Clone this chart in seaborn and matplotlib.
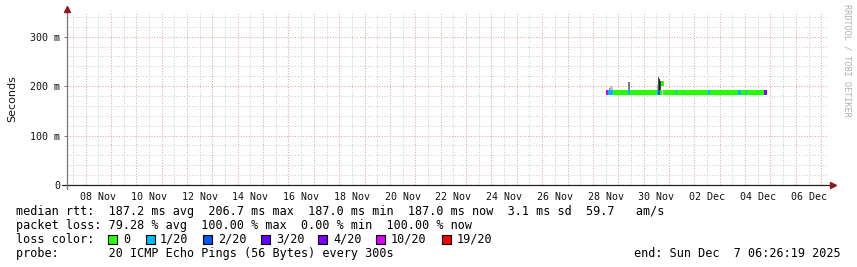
import matplotlib
matplotlib.use("Agg")
import matplotlib.pyplot as plt
import matplotlib.ticker as mticker
import matplotlib.dates as mdates
from matplotlib.patches import Rectangle
import seaborn as sns
import pandas as pd

# ---------------- data ----------------
start_time = "2025-11-07 06:26:19"
end_time = "2025-12-07 06:26:19"

loss_labels = ["0", "1/20", "2/20", "3/20", "4/20", "10/20", "19/20"]
loss_colors = ["#26ff00", "#00b8ff", "#0059ff", "#5e00ff", "#7e00ff", "#dd00ff", "#ff0000"]

# median rtt segments (start, end, median ms, loss level index)
seg_start = ["2025-11-28 12:00", "2025-11-28 14:00", "2025-11-28 19:00", "2025-11-29 09:00",
             "2025-11-29 11:00", "2025-11-30 12:30", "2025-11-30 14:00", "2025-11-30 15:30",
             "2025-11-30 16:30", "2025-11-30 18:00", "2025-12-01 06:30", "2025-12-01 07:30",
             "2025-12-02 12:50", "2025-12-02 14:50", "2025-12-03 17:20", "2025-12-03 20:00",
             "2025-12-04 00:50", "2025-12-04 01:50", "2025-12-04 17:50"]
seg_end = ["2025-11-28 14:00", "2025-11-28 19:00", "2025-11-29 09:00", "2025-11-29 11:00",
           "2025-11-30 12:30", "2025-11-30 14:00", "2025-11-30 15:30", "2025-11-30 16:30",
           "2025-11-30 18:00", "2025-12-01 06:30", "2025-12-01 07:30", "2025-12-02 12:50",
           "2025-12-02 14:50", "2025-12-03 17:20", "2025-12-03 20:00", "2025-12-04 00:50",
           "2025-12-04 01:50", "2025-12-04 17:50", "2025-12-04 19:50"]
seg_median = [187.2, 187.2, 187.2, 187.2, 187.2, 187.2, 187.2, 187.2, 206.7, 187.2,
              187.2, 187.2, 187.2, 187.2, 187.2, 187.2, 187.2, 187.2, 187.2]
seg_loss = [5, 1, 0, 1, 0, 1, 2, 0, 0, 0, 1, 0, 1, 0, 1, 0, 1, 0, 4]

# smoke (ping spread) blocks: start, end, top ms, shade
smoke_start = ["2025-11-28 15:00", "2025-11-28 16:30", "2025-11-29 09:00", "2025-11-30 12:30",
               "2025-11-30 13:30", "2025-11-30 14:30", "2025-11-30 15:30"]
smoke_end = ["2025-11-28 16:30", "2025-11-28 19:00", "2025-11-29 11:00", "2025-11-30 13:30",
             "2025-11-30 14:30", "2025-11-30 15:30", "2025-11-30 16:30"]
smoke_top = [196.0, 201.0, 208.0, 203.0, 219.0, 214.0, 211.0]
smoke_shade = ["#8f8f8f", "#c0c0c0", "#7a7a7a", "#b0b0b0", "#505050", "#202020", "#404040"]

x_tick_labels = ["08 Nov", "10 Nov", "12 Nov", "14 Nov", "16 Nov", "18 Nov", "20 Nov",
                 "22 Nov", "24 Nov", "26 Nov", "28 Nov", "30 Nov", "02 Dec", "04 Dec", "06 Dec"]
y_ticks = [0, 100, 200, 300]
y_tick_labels = ["0", "100 m", "200 m", "300 m"]

legend_lines = [
    "median rtt:  187.2 ms avg  206.7 ms max  187.0 ms min  187.0 ms now  3.1 ms sd  59.7   am/s",
    "packet loss: 79.28 % avg  100.00 % max  0.00 % min  100.00 % now",
    "loss color:",
    "probe:       20 ICMP Echo Pings (56 Bytes) every 300s",
]
end_label = "end: Sun Dec  7 06:26:19 2025"

# ---------------- figure ----------------
sns.set_theme(style="white")
plt.rcParams["font.family"] = ["DejaVu Sans Mono", "DejaVu Sans"]

W, H = 857, 267
fig = plt.figure(figsize=(W / 100, H / 100), dpi=100)
fig.patch.set_facecolor("white")
ax = fig.add_axes([67 / W, (H - 185) / H, 761 / W, 173 / H])
ax.set_facecolor("white")

t0 = pd.Timestamp(start_time)
t1 = pd.Timestamp(end_time)

# smoke
for s, e, top, shade in zip(smoke_start, smoke_end, smoke_top, smoke_shade):
    s = pd.Timestamp(s); e = pd.Timestamp(e)
    width = (e - s) / pd.Timedelta(days=1)
    ax.bar(mdates.date2num(s), top - 187.2, width=width, bottom=187.2, align="edge",
           color=shade, linewidth=0, zorder=3)

# median line through seaborn
rows = []
for i, (s, e, m, l) in enumerate(zip(seg_start, seg_end, seg_median, seg_loss)):
    key = f"s{i:02d}"
    rows.append({"time": pd.Timestamp(s), "rtt": m, "seg": key})
    rows.append({"time": pd.Timestamp(e), "rtt": m, "seg": key})
df = pd.DataFrame(rows)
pal = {f"s{i:02d}": loss_colors[l] for i, l in enumerate(seg_loss)}
sns.lineplot(data=df, x="time", y="rtt", hue="seg", palette=pal, estimator=None,
             sort=False, linewidth=2.2, legend=False, ax=ax, zorder=4,
             solid_capstyle="butt", antialiased=False)

ax.set_xlim(t0, t1)
ax.set_ylim(0, 350)

# grid / ticks
noon_days = pd.date_range("2025-11-07 12:00", "2025-12-06 12:00", freq="D")
midnights = pd.date_range("2025-11-08 00:00", "2025-12-07 00:00", freq="D")
lab_map = {d: "" for d in noon_days}
label_days = pd.date_range("2025-11-08 12:00", "2025-12-06 12:00", freq="2D")
for d, lab in zip(label_days, x_tick_labels):
    lab_map[d] = lab
ax.xaxis.set_major_locator(mticker.FixedLocator(mdates.date2num(noon_days)))
ax.xaxis.set_major_formatter(mticker.FixedFormatter([lab_map[d] for d in noon_days]))
ax.xaxis.set_minor_locator(mticker.FixedLocator(mdates.date2num(midnights)))

ax.yaxis.set_major_locator(mticker.FixedLocator(y_ticks))
ax.yaxis.set_major_formatter(mticker.FixedFormatter(y_tick_labels))
ax.yaxis.set_minor_locator(mticker.MultipleLocator(20))

dot = (0, (1, 1.6))
gray = "#cfcfcf"
red = "#e9a3a3"
ax.grid(False)
ax.xaxis.grid(True, which="major", color=gray, linestyle=dot, linewidth=0.75, zorder=0)
ax.xaxis.grid(True, which="minor", color=red, linestyle=dot, linewidth=0.75, zorder=0)
ax.yaxis.grid(True, which="minor", color=gray, linestyle=dot, linewidth=0.75, zorder=0)
ax.yaxis.grid(True, which="major", color=red, linestyle=dot, linewidth=0.75, zorder=0)
ax.set_axisbelow(True)

ax.tick_params(axis="x", which="both", length=0, pad=5, labelsize=7.2, labelcolor="#111111")
ax.tick_params(axis="y", which="major", length=2, width=0.7, color="#777777", pad=3,
               labelsize=7.2, labelcolor="#111111", left=True)
ax.tick_params(axis="y", which="minor", length=0)
ax.set_xlabel("")
ax.set_ylabel("Seconds", family="DejaVu Sans", fontsize=8, color="#111111")
ax.yaxis.set_label_coords(-50 / 761, 0.5)

for sp in ["top", "right", "left", "bottom"]:
    ax.spines[sp].set_visible(False)

# axes lines with arrows (drawn in axes coordinates)
ax.plot([-5 / 761, 766 / 761], [0, 0], transform=ax.transAxes, color="#222222",
        lw=0.9, clip_on=False, zorder=5)
ax.plot([0, 0], [-4 / 173, 175 / 173], transform=ax.transAxes, color="#777777",
        lw=0.9, clip_on=False, zorder=5)
ax.plot([766 / 761], [0], transform=ax.transAxes, marker=">", markersize=4,
        color="#8b1a1a", clip_on=False, zorder=6)
ax.plot([0], [176 / 173], transform=ax.transAxes, marker="^", markersize=4,
        color="#8b1a1a", clip_on=False, zorder=6)

# watermark
fig.text(847 / W, 1 - 4 / H, "RRDTOOL / TOBI OETIKER", rotation=270, ha="center", va="top",
         fontsize=6.1, color="#b0b0b0", family="DejaVu Sans Mono")

# legend text
fs = 8.5
ys = [211, 225.5, 239.5, 253.5]
for line, y in zip(legend_lines, ys):
    fig.text(16 / W, 1 - y / H, line, ha="left", va="center", fontsize=fs,
             family="DejaVu Sans Mono", color="black")
fig.text(841 / W, 1 - ys[3] / H, end_label, ha="right", va="center", fontsize=fs,
         family="DejaVu Sans Mono", color="black")

box_x = [108, 146, 203, 261, 318, 376, 442]
lab_x = [123, 160, 218, 276, 333, 391, 457]
for bx, lx, col, lab in zip(box_x, lab_x, loss_colors, loss_labels):
    fig.patches.append(Rectangle((bx / W, 1 - (ys[2] + 4.5) / H), 9 / W, 9 / H,
                                 transform=fig.transFigure, facecolor=col,
                                 edgecolor="black", linewidth=0.8, figure=fig))
    fig.text(lx / W, 1 - ys[2] / H, lab, ha="left", va="center", fontsize=fs,
             family="DejaVu Sans Mono", color="black")

fig.savefig("out.png", dpi=100, facecolor="white")
